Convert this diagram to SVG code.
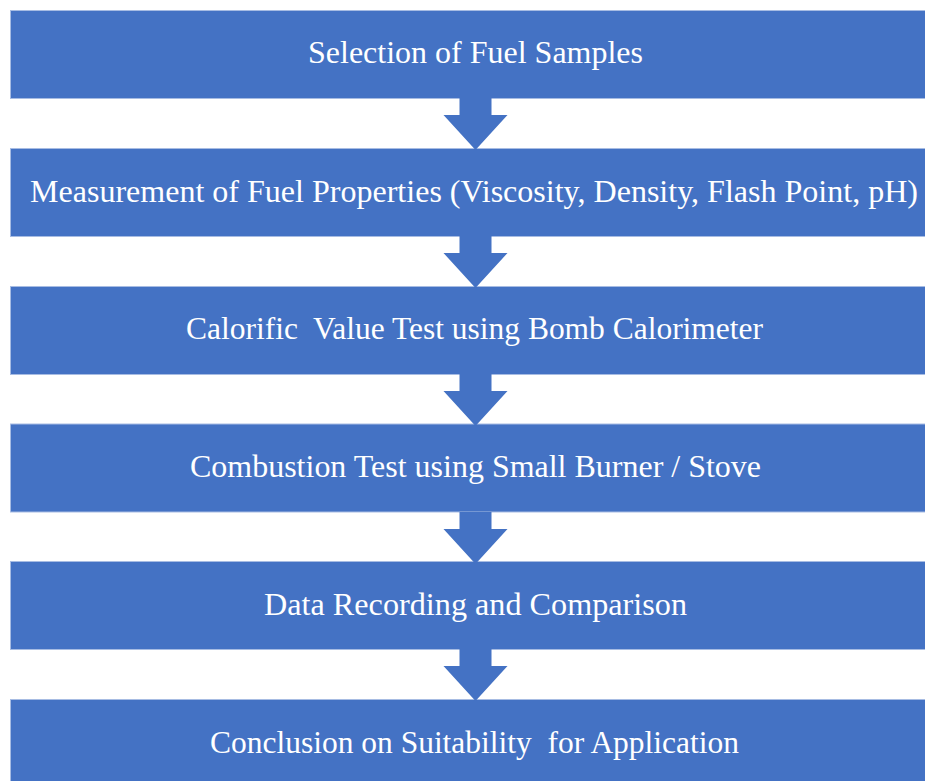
<svg xmlns="http://www.w3.org/2000/svg" width="925" height="781" viewBox="0 0 925 781">
<style>
.box{fill:#4472C4;stroke:#A7BCE3;stroke-width:1}
.lbl{fill:#FFFFFF;font-family:"Liberation Serif","Times New Roman",serif;font-size:32px;text-anchor:middle}
.arr{fill:#4472C4}
</style>
<rect width="925" height="781" fill="#FFFFFF"/>
<g id="node1">
<rect class="box" x="10.5" y="10.5" width="940" height="88"/>
<text class="lbl" x="475.5" y="63" textLength="335" lengthAdjust="spacingAndGlyphs">Selection of Fuel Samples</text>
</g>
<g id="node2">
<rect class="box" x="10.5" y="148.5" width="940" height="88"/>
<text class="lbl" x="474" y="201.5" textLength="888" lengthAdjust="spacingAndGlyphs">Measurement of Fuel Properties (Viscosity, Density, Flash Point, pH)</text>
</g>
<g id="node3">
<rect class="box" x="10.5" y="286.5" width="940" height="88"/>
<text class="lbl" x="474.5" y="339" textLength="577" lengthAdjust="spacingAndGlyphs" xml:space="preserve">Calorific  Value Test using Bomb Calorimeter</text>
</g>
<g id="node4">
<rect class="box" x="10.5" y="424" width="940" height="88"/>
<text class="lbl" x="475.5" y="477" textLength="571" lengthAdjust="spacingAndGlyphs">Combustion Test using Small Burner / Stove</text>
</g>
<g id="node5">
<rect class="box" x="10.5" y="561.5" width="940" height="88"/>
<text class="lbl" x="475.5" y="614.5" textLength="423" lengthAdjust="spacingAndGlyphs">Data Recording and Comparison</text>
</g>
<g id="node6">
<rect class="box" x="10.5" y="699.5" width="940" height="88"/>
<text class="lbl" x="474.5" y="752.5" textLength="529" lengthAdjust="spacingAndGlyphs" xml:space="preserve">Conclusion on Suitability  for Application</text>
</g>
<g id="connectors">
<polygon class="arr" points="459.5,98 491.5,98 491.5,115 507.5,115 475.5,150 443.5,115 459.5,115"/>
<polygon class="arr" points="459.5,236 491.5,236 491.5,253 507.5,253 475.5,288 443.5,253 459.5,253"/>
<polygon class="arr" points="459.5,374 491.5,374 491.5,391 507.5,391 475.5,426 443.5,391 459.5,391"/>
<polygon class="arr" points="459.5,512 491.5,512 491.5,529 507.5,529 475.5,564 443.5,529 459.5,529"/>
<polygon class="arr" points="459.5,649 491.5,649 491.5,666 507.5,666 475.5,701 443.5,666 459.5,666"/>
</g>
</svg>
